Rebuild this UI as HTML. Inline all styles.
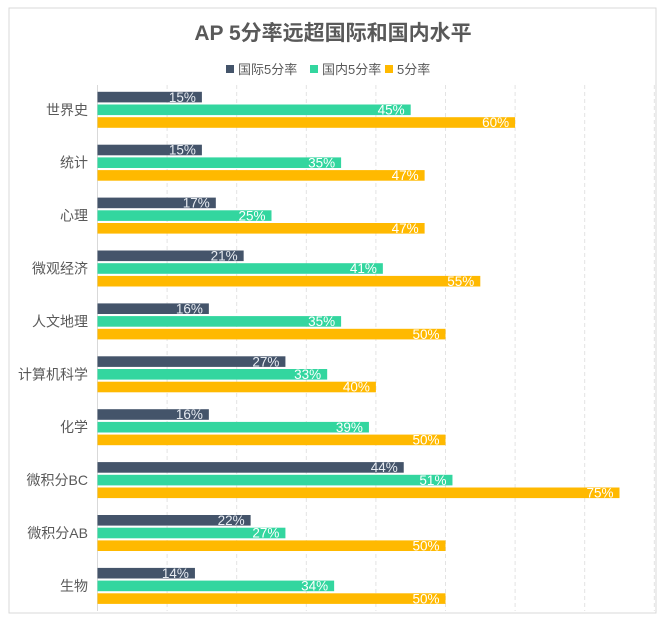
<!DOCTYPE html>
<html><head><meta charset="utf-8">
<style>
body{margin:0;background:#fff;width:665px;height:619px;overflow:hidden;font-family:"Liberation Sans","Noto Sans CJK SC",sans-serif;}
</style></head>
<body>
<svg width="665" height="619">
<rect x="9" y="8" width="647" height="605" fill="#fff" stroke="#d9d9d9"/>
<text x="333" y="40" text-anchor="middle" font-size="21" font-weight="bold" fill="#595959">AP 5分率远超国际和国内水平</text>
<g id="legend"></g>
<g id="grid"></g>
<g id="bars"></g>
</svg>
<script>
const categories=["世界史","统计","心理","微观经济","人文地理","计算机科学","化学","微积分BC","微积分AB","生物"];
const intl=[15,15,17,21,16,27,16,44,22,14];
const domestic=[45,35,25,41,35,33,39,51,27,34];
const ours=[60,47,47,55,50,40,50,75,50,50];
const seriesNames=["国际5分率","国内5分率","5分率"];
const colors=["#44546a","#33d69f","#ffb900"];
const ns="http://www.w3.org/2000/svg";
const x0=97.5,px=6.96;
const xs=v=>x0+v*px;
const groupTop=i=>91.8+i*52.9;
function mk(tag,attrs,parent){const e=document.createElementNS(ns,tag);for(const k in attrs)e.setAttribute(k,attrs[k]);parent.appendChild(e);return e;}
const grid=document.getElementById('grid');
for(let v=10;v<=80;v+=10){
 const l=mk('line',{x1:xs(v),x2:xs(v),y1:85,y2:611,stroke:'#e3e3e3','stroke-dasharray':'4,3'},grid);
 
 
}
const ax=mk('line',{x1:x0,x2:x0,y1:85,y2:611,stroke:'#d9d9d9'},grid);


const bars=document.getElementById('bars');
const series=[intl,domestic,ours];
categories.forEach((c,i)=>{
 const t=groupTop(i);
 const lab=mk('text',{x:88,y:t+23,'text-anchor':'end','font-size':14,fill:'#595959'},bars);
 lab.textContent=c;
 
 
 series.forEach((s,k)=>{
  const y=t+k*12.7;
  const r=mk('rect',{x:x0,y:y,width:xs(s[i])-x0,height:10.6,fill:colors[k]},bars);
  
  
  const tx=mk('text',{x:xs(s[i])-6,y:y+10,'text-anchor':'end','font-size':13.5,fill:k==0?'#e8ecf2':'#ffffff'},bars);
  tx.textContent=s[i]+'%';
  
  
 });
});
const lg=document.getElementById('legend');
const lx=[226,310,385];
seriesNames.forEach((n,k)=>{
 const r=mk('rect',{x:lx[k],y:65,width:8,height:8,fill:colors[k]},lg);
 
 
 const t=mk('text',{x:lx[k]+12,y:74,'font-size':13,fill:'#595959'},lg);
 t.textContent=n;
 
 
});
</script>
</body></html>
